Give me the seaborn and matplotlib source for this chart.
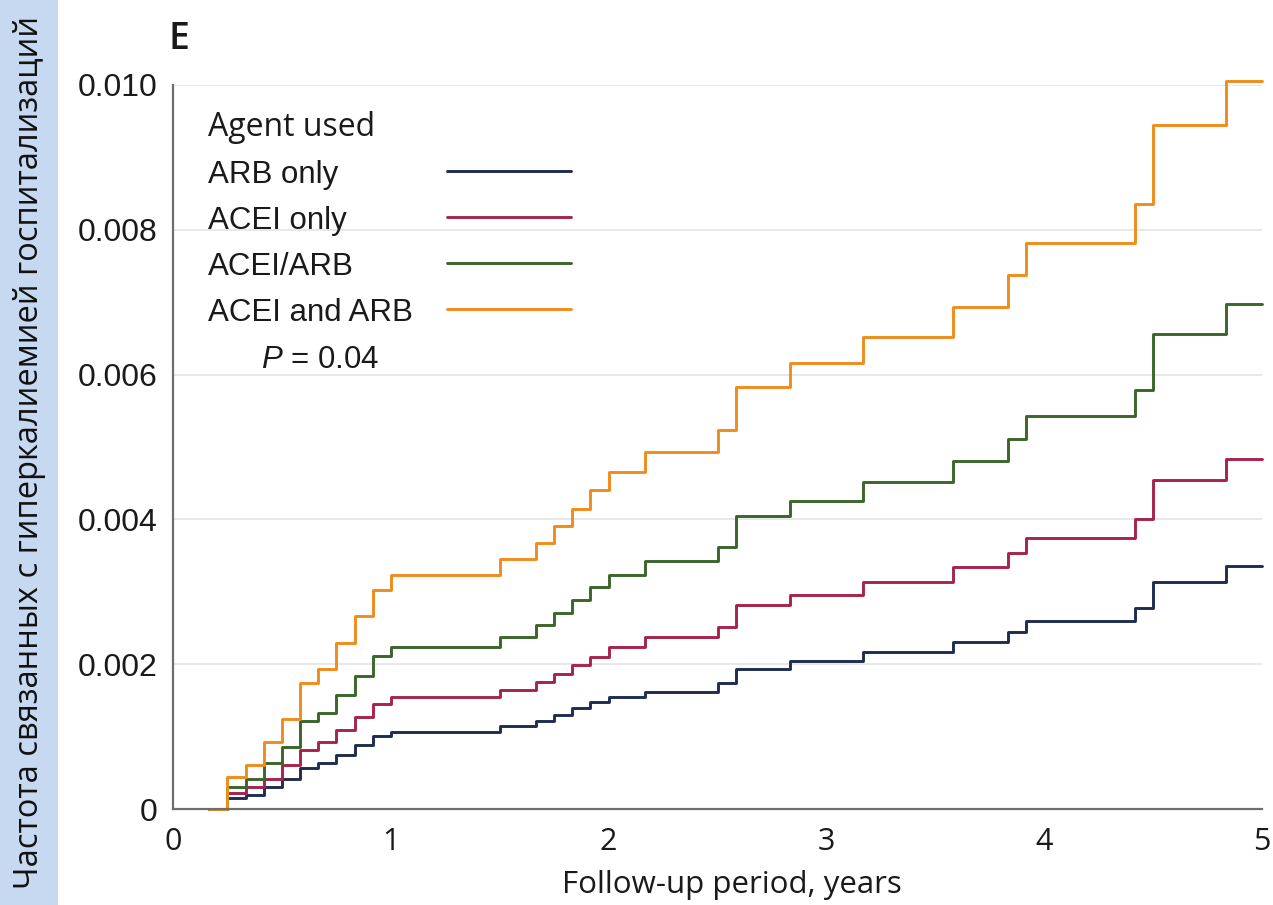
import numpy as np
import pandas as pd
import matplotlib
matplotlib.use("Agg")
import matplotlib.pyplot as plt
import seaborn as sns
from matplotlib.patches import Rectangle
from matplotlib.lines import Line2D

# ---------------- data ----------------
months = [2, 3, 4, 5, 6, 7, 8, 9, 10, 11, 12,
          18, 20, 21, 22, 23, 24, 26, 30, 31, 34, 38, 43, 46, 47, 53, 54, 58, 60]

arb_only = [0, 0.00015, 0.00020, 0.00030, 0.00042, 0.00056, 0.00063, 0.00075, 0.00088, 0.00101, 0.00107,
            0.00114, 0.00121, 0.00130, 0.00139, 0.00148, 0.00155, 0.00162, 0.00174, 0.00194, 0.00205,
            0.00217, 0.00230, 0.00245, 0.00260, 0.00277, 0.00314, 0.00335, 0.00335]
acei_only = [0, 0.000225, 0.00030, 0.00042, 0.00061, 0.00082, 0.00092, 0.00109, 0.00127, 0.00145, 0.00155,
             0.00165, 0.00176, 0.00187, 0.00199, 0.00210, 0.00224, 0.00238, 0.00252, 0.00282, 0.00296,
             0.00313, 0.00334, 0.00353, 0.00375, 0.00401, 0.00454, 0.00483, 0.00483]
acei_or_arb = [0, 0.00031, 0.00041, 0.00064, 0.00086, 0.00121, 0.00133, 0.00157, 0.00184, 0.00211, 0.00224,
               0.00238, 0.00254, 0.00271, 0.00288, 0.00306, 0.00323, 0.00342, 0.00362, 0.00405, 0.00426,
               0.00452, 0.00481, 0.00511, 0.00543, 0.00579, 0.00656, 0.00698, 0.00698]
acei_and_arb = [0, 0.000446, 0.00061, 0.00092, 0.00124, 0.00174, 0.00193, 0.00229, 0.00266, 0.00303, 0.00323,
                0.00345, 0.00368, 0.00391, 0.00415, 0.00440, 0.00466, 0.00493, 0.00523, 0.00583, 0.00616,
                0.00652, 0.00693, 0.00737, 0.00782, 0.00836, 0.00945, 0.01006, 0.01006]

agents = ["ARB only", "ACEI only", "ACEI/ARB", "ACEI and ARB"]
series = [arb_only, acei_only, acei_or_arb, acei_and_arb]
colors = ["#1f2d52", "#a8234b", "#3a6629", "#f08c1c"]

y_ticks = [0, 0.002, 0.004, 0.006, 0.008, 0.010]
y_tick_labels = ["0", "0.002", "0.004", "0.006", "0.008", "0.010"]
x_ticks = [0, 1, 2, 3, 4, 5]
x_tick_labels = ["0", "1", "2", "3", "4", "5"]

legend_title = "Agent used"
p_text = "$P$ = 0.04"
x_label = "Follow-up period, years"
side_label = "Частота связанных с гиперкалиемией госпитализаций"
panel_label = "E"

# ---------------- build table ----------------
years = np.array(months) / 12.0
df = pd.concat(
    [pd.DataFrame({"year": years, "rate": vals, "agent": name}) for name, vals in zip(agents, series)],
    ignore_index=True,
)

# ---------------- figure ----------------
sns.set_theme(style="white")
plt.rcParams["font.family"] = ["Liberation Sans", "DejaVu Sans"]
plt.rcParams["mathtext.fontset"] = "custom"
plt.rcParams["mathtext.it"] = "Liberation Sans:italic"
plt.rcParams["mathtext.rm"] = "Liberation Sans"

W, H = 1273, 905
fig = plt.figure(figsize=(W / 100, H / 100), dpi=100)
fig.patch.set_facecolor("white")

ax_l, ax_r, ax_t, ax_b = 173, 1262, 85, 809
ax = fig.add_axes([ax_l / W, 1 - ax_b / H, (ax_r - ax_l) / W, (ax_b - ax_t) / H])
ax.set_facecolor("white")

sns.lineplot(
    data=df, x="year", y="rate", hue="agent", hue_order=agents,
    palette=dict(zip(agents, colors)), estimator=None, sort=False,
    drawstyle="steps-post", linewidth=2.1, legend=False, ax=ax,
)
for ln in ax.lines:
    ln.set_clip_on(False)

ax.set_xlim(0, 5)
ax.set_ylim(0, 0.010)
ax.set_xticks(x_ticks)
ax.set_xticklabels(x_tick_labels)
ax.set_yticks(y_ticks)
ax.set_yticklabels(y_tick_labels)
ax.set_xlabel("")
ax.set_ylabel("")

spine_col = "#6e6e6e"
for s in ["top", "right"]:
    ax.spines[s].set_visible(False)
for s in ["left", "bottom"]:
    ax.spines[s].set_color(spine_col)
    ax.spines[s].set_linewidth(1.6)

ax.tick_params(axis="both", which="major", direction="out", length=8, width=1.3,
               color=spine_col, labelcolor="#1a1a1a")
ax.tick_params(axis="x", pad=5, labelsize=22)
ax.tick_params(axis="y", pad=3, labelsize=23)
for lab in ax.get_xticklabels():
    lab.set_fontfamily(["Open Sans", "DejaVu Sans"])
for lab in ax.get_yticklabels():
    lab.set_fontfamily(["Liberation Sans", "DejaVu Sans"])

ax.yaxis.grid(True, color="#e8e8e8", linewidth=1.4)
ax.xaxis.grid(False)
ax.set_axisbelow(True)
ax.get_ygridlines()[0].set_visible(False)

# ---------------- legend (drawn inside the axes) ----------------
def ax_y(py):
    return (ax_b - py) / (ax_b - ax_t)

def ax_x(px):
    return (px - ax_l) / (ax_r - ax_l)

ax.text(ax_x(208), ax_y(136), legend_title, transform=ax.transAxes, ha="left", va="baseline",
        fontsize=23, family=["Open Sans", "DejaVu Sans"], color="#1a1a1a")
label_baselines = [183, 229, 275, 321]
line_ys = [171, 217, 263, 309]
for name, col, bl, ly in zip(agents, colors, label_baselines, line_ys):
    ax.text(ax_x(208), ax_y(bl), name, transform=ax.transAxes, ha="left", va="baseline",
            fontsize=22.5, family=["Liberation Sans", "DejaVu Sans"], color="#1a1a1a")
    ax.add_line(Line2D([ax_x(447), ax_x(571)], [ax_y(ly), ax_y(ly)], transform=ax.transAxes,
                       color=col, linewidth=2.1, clip_on=False))
ax.text(ax_x(261), ax_y(368), p_text, transform=ax.transAxes, ha="left", va="baseline",
        fontsize=22.5, family=["Liberation Sans", "DejaVu Sans"], color="#1a1a1a")

# ---------------- labels ----------------
fig.text(732 / W, 1 - 893 / H, x_label, ha="center", va="baseline", fontsize=22.5,
         family=["Open Sans", "DejaVu Sans"], color="#1a1a1a")
fig.text(169 / W, 1 - 49 / H, panel_label, ha="left", va="baseline", fontsize=27,
         family=["Open Sans", "DejaVu Sans"], fontweight="semibold", color="#1a1a1a")

# left side strip with rotated Russian label
fig.patches.append(Rectangle((0, 0), 58 / W, 1, transform=fig.transFigure,
                             facecolor="#c6d9f1", edgecolor="none", zorder=0))
fig.text(30 / W, 0.5, side_label, rotation=90, ha="center", va="center", fontsize=23.5,
         family=["Open Sans", "DejaVu Sans"], color="#111111")

fig.savefig("out.png", dpi=100, facecolor="white")
